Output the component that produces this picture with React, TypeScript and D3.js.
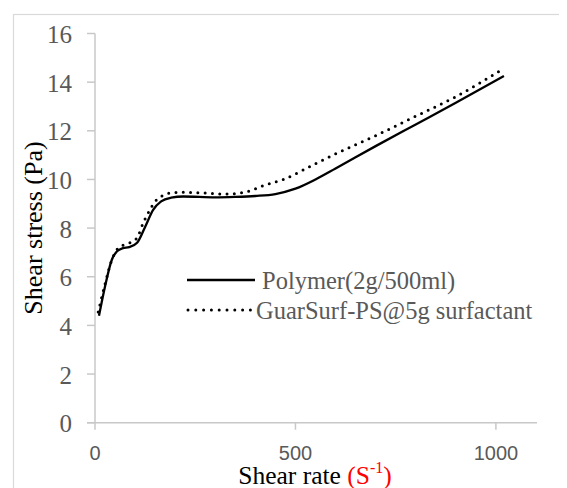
import React from "react";
import * as d3 from "d3";

const polymerX = [10, 25, 42, 55, 70, 85, 105, 125, 145, 165, 190, 220, 300, 350, 400, 450, 500, 550, 600, 700, 800, 900, 1020];
const polymerY = [4.4, 5.6, 6.7, 7.05, 7.18, 7.22, 7.4, 8.05, 8.75, 9.1, 9.25, 9.3, 9.26, 9.28, 9.32, 9.4, 9.62, 10.0, 10.45, 11.37, 12.26, 13.15, 14.25];
const guarX = [8, 25, 40, 55, 70, 88, 105, 120, 137, 150, 168, 190, 215, 260, 330, 380, 420, 470, 550, 600, 700, 800, 900, 1020];
const guarY = [4.55, 5.7, 6.6, 7.12, 7.3, 7.4, 7.6, 8.2, 8.75, 9.1, 9.33, 9.45, 9.47, 9.45, 9.4, 9.5, 9.75, 10.0, 10.65, 11.05, 11.8, 12.6, 13.4, 14.57];
const yTicks = [0, 2, 4, 6, 8, 10, 12, 14, 16];
const xTicks = [0, 500, 1000];
const legendLabels = ["Polymer(2g/500ml)", "GuarSurf-PS@5g surfactant"];

const W = 567, H = 488;

export default function App() {
  const x = d3.scaleLinear().domain([0, 1100]).range([95, 536]);
  const y = d3.scaleLinear().domain([0, 16]).range([422.7, 33.5]);
  const line = d3.line<[number, number]>().x(d => x(d[0])).y(d => y(d[1])).curve(d3.curveMonotoneX);
  const p1 = line(polymerX.map((v, i) => [v, polymerY[i]]) as [number, number][]) || "";
  const p2 = line(guarX.map((v, i) => [v, guarY[i]]) as [number, number][]) || "";
  const axisColor = "#c8c8c8";
  const tickText = "#595959";
  const SERIF = "Times New Roman";
  return (
    <svg width={W} height={H} fontFamily={SERIF} style={{ display: "block", margin: "-8px 0 0 -8px" }}>
      <rect x={13.5} y={14.5} width={700} height={700} fill="#fff" stroke="#d9d9d9" strokeWidth={1.2} />
      <line x1={95} x2={95} y1={y(16)} y2={y(0)} stroke={axisColor} strokeWidth={1.5} />
      {yTicks.map(t => (
        <g key={"y" + t}>
          <line x1={87} x2={95} y1={y(t)} y2={y(t)} stroke={axisColor} strokeWidth={1.5} />
          <text x={72} y={y(t)} dy="0.38em" textAnchor="end" fontFamily={SERIF} fontSize={25} fill={tickText}>{t}</text>
        </g>
      ))}
      <line x1={87} x2={537} y1={y(0)} y2={y(0)} stroke={axisColor} strokeWidth={1.5} />
      {xTicks.map(t => (
        <g key={"x" + t}>
          <line x1={x(t)} x2={x(t)} y1={y(0)} y2={y(0) + 7} stroke={axisColor} strokeWidth={1.5} />
          <text x={x(t)} y={y(0) + 37.5} textAnchor="middle" fontFamily="Liberation Sans" fontSize={20} fill={tickText}>{t}</text>
        </g>
      ))}
      <path d={p1} fill="none" stroke="#000" strokeWidth={2.3} />
      <path d={p2} fill="none" stroke="#000" strokeWidth={3} strokeDasharray="0 7.3" strokeLinecap="round" />
      <line x1={187} x2={255} y1={280} y2={280} stroke="#000" strokeWidth={2.3} />
      <text x={262} y={280} dy="0.35em" fontFamily={SERIF} fontSize={24.5} fill={tickText}>{legendLabels[0]}</text>
      <line x1={188} x2={251} y1={310} y2={310} stroke="#000" strokeWidth={3} strokeDasharray="0 7.8" strokeLinecap="round" />
      <text x={256} y={310} dy="0.35em" fontFamily={SERIF} fontSize={24.5} fill={tickText}>{legendLabels[1]}</text>
      <text transform="translate(42,228) rotate(-90)" textAnchor="middle" fontFamily={SERIF} fontSize={26} fill="#000">Shear stress (Pa)</text>
      <text x={315} y={484} textAnchor="middle" fontFamily={SERIF} fontSize={25.5} fill="#000">
        Shear rate <tspan fill="#ff0000">(S</tspan><tspan fill="#ff0000" fontSize={16} dy={-11}>-1</tspan><tspan fill="#ff0000" dy={11}>)</tspan>
      </text>
    </svg>
  );
}
